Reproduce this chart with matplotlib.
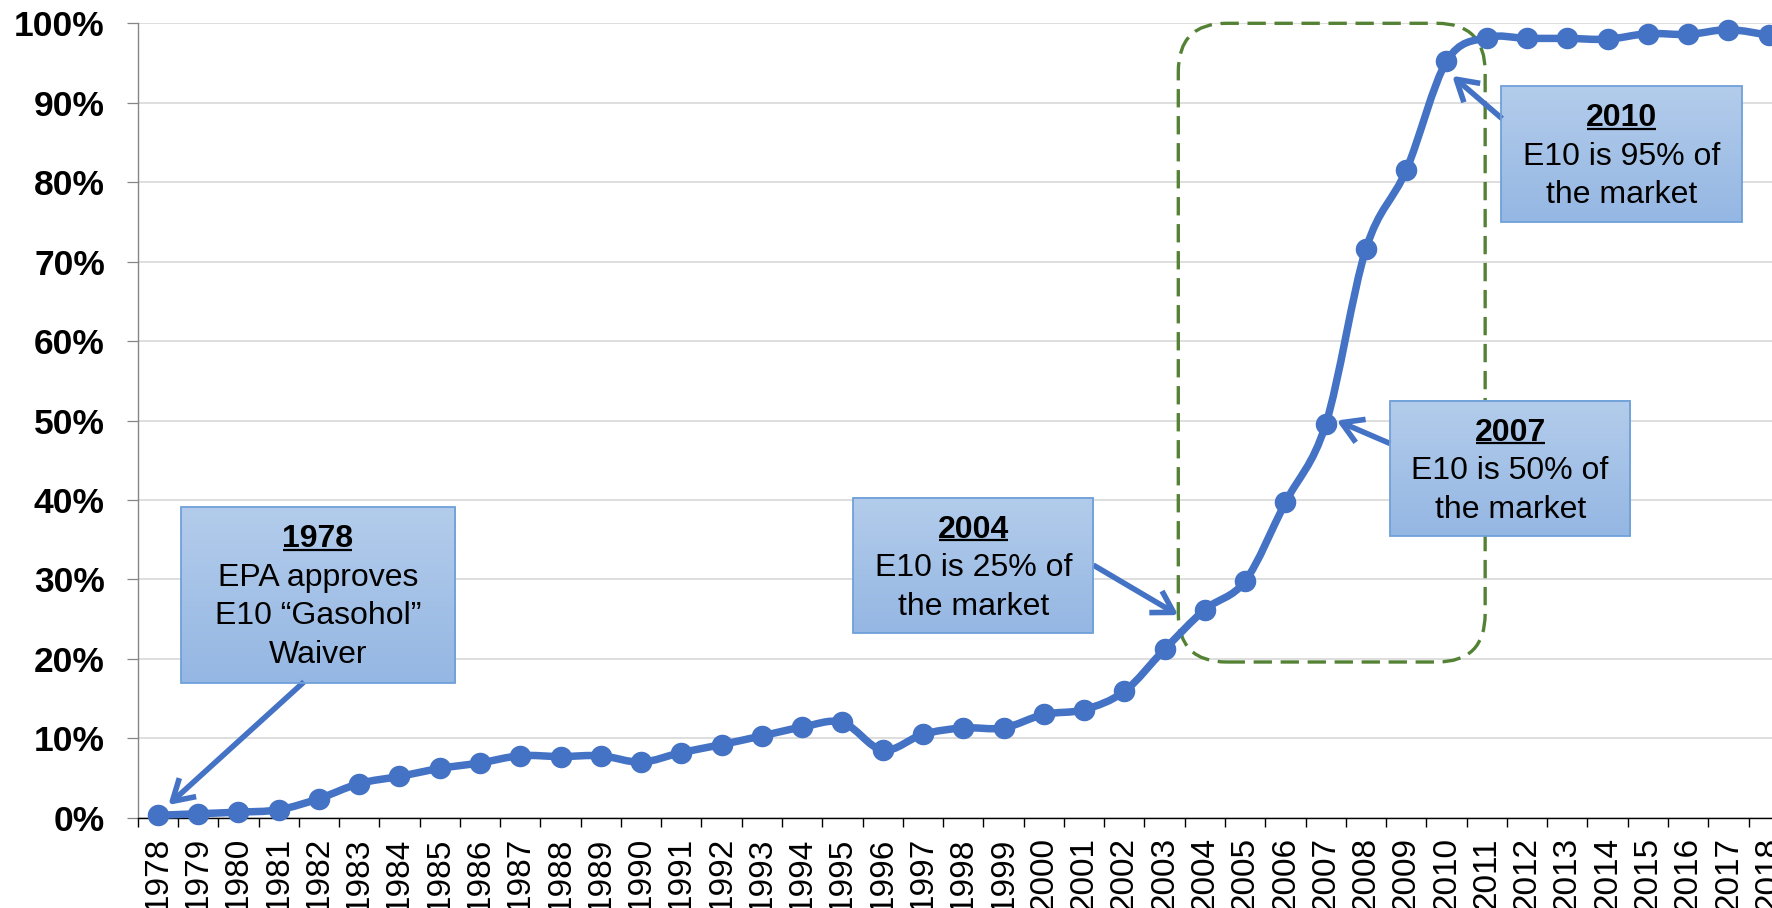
import numpy as np
import matplotlib
matplotlib.use("Agg")
import matplotlib.pyplot as plt
from matplotlib.path import Path
from matplotlib.patches import PathPatch, Rectangle, FancyBboxPatch, FancyArrowPatch
from matplotlib.colors import LinearSegmentedColormap
from matplotlib.transforms import offset_copy

plt.rcParams['font.family'] = ['Liberation Sans', 'DejaVu Sans']

# E10 share of the US gasoline market (%)
years = list(range(1978, 2019))
share = [0.3, 0.5, 0.7, 1.0, 2.4, 4.3, 5.2, 6.2, 6.9, 7.8,
         7.7, 7.8, 7.0, 8.2, 9.2, 10.3, 11.4, 12.0, 8.5, 10.5,
         11.3, 11.3, 13.0, 13.6, 15.9, 21.2, 26.2, 29.8, 39.7, 49.5,
         71.6, 81.5, 95.2, 98.2, 98.1, 98.1, 98.0, 98.7, 98.6, 99.2,
         98.5]
yticks = list(range(0, 101, 10))

note_titles = ["1978", "2004", "2007", "2010"]
note_lines = [["EPA approves", "E10 \u201cGasohol\u201d", "Waiver"],
              ["E10 is 25% of", "the market"],
              ["E10 is 50% of", "the market"],
              ["E10 is 95% of", "the market"]]

# layout of the callouts (category index, percent)
note_boxes = [(0.57, 7.38, 17.0, 39.1), (17.27, 23.23, 23.2, 40.3),
              (30.6, 36.56, 35.4, 52.5), (33.36, 39.34, 75.0, 92.1)]
note_tails = [(3.63, 17.1), (23.23, 31.8), (30.6, 47.1), (33.38, 88.0)]
note_heads = [(0.26, 1.6), (25.34, 25.5), (29.27, 50.0), (32.14, 93.4)]

BLUE = '#4472C4'

fig = plt.figure(figsize=(17.72, 9.08), dpi=100)
ax = fig.add_axes([137.7 / 1772, 90.3 / 908, 1651.1 / 1772, 794.4 / 908])

x = np.arange(len(years), dtype=float)
y = np.array(share, dtype=float)

# smoothed line (Catmull-Rom style bezier, like a spreadsheet "smoothed line")
pts = np.column_stack([x, y])
ext = np.vstack([pts[0], pts, pts[-1]])
verts = [tuple(pts[0])]
codes = [Path.MOVETO]
for i in range(len(pts) - 1):
    p0, p1, p2, p3 = ext[i], ext[i + 1], ext[i + 2], ext[i + 3]
    c1 = p1 + (p2 - p0) / 6.0
    c2 = p2 - (p3 - p1) / 6.0
    verts += [tuple(c1), tuple(c2), tuple(p2)]
    codes += [Path.CURVE4] * 3
ax.add_patch(PathPatch(Path(verts, codes), fill=False, edgecolor=BLUE,
                       lw=5.4, capstyle='round', joinstyle='round',
                       zorder=3, clip_on=False))
ax.plot(x, y, 'o', color=BLUE, ms=14.5, zorder=4, clip_on=False)

# dashed rounded frame around the 2004-2010 ramp
px_x = 40.27
px_y = 7.944
frame = FancyBboxPatch((25.34, 19.6), 32.96 - 25.34, 100 - 19.6,
                       boxstyle="round,pad=0,rounding_size=1.2",
                       mutation_aspect=px_x / px_y,
                       fill=False, edgecolor='#548235', lw=2.4,
                       linestyle=(0, (5.5, 2.6)), zorder=2.5, clip_on=False)
ax.add_patch(frame)

cmap = LinearSegmentedColormap.from_list('box', ['#95b7e3', '#b3cceb'])
grad = np.linspace(0, 1, 100).reshape(-1, 1)

year_texts = []
for title, lines, box, tail, head in zip(note_titles, note_lines, note_boxes,
                                         note_tails, note_heads):
    x0, x1, y0, y1 = box
    ax.imshow(grad, extent=(x0, x1, y0, y1), origin='lower', cmap=cmap,
              aspect='auto', zorder=6, interpolation='bilinear')
    ax.add_patch(Rectangle((x0, y0), x1 - x0, y1 - y0, fill=False,
                           edgecolor='#6fa0da', lw=1.3, zorder=6.5))
    ax.add_patch(FancyArrowPatch(tail, head,
                                 arrowstyle='->,head_length=0.75,head_width=0.45',
                                 mutation_scale=20, color=BLUE, lw=4.0,
                                 shrinkA=0, shrinkB=0, zorder=6.2,
                                 capstyle='butt', joinstyle='round'))
    cx = (x0 + x1) / 2
    tr = offset_copy(ax.transData, fig, y=-40.3, units='dots')
    t = ax.text(cx, y1, title, transform=tr, ha='center', va='baseline',
                fontsize=23, fontweight='bold', zorder=7)
    year_texts.append((t, y1))
    for k, line in enumerate(lines):
        tr = offset_copy(ax.transData, fig, y=-40.3 - 38.4 * (k + 1), units='dots')
        ax.text(cx, y1, line, transform=tr, ha='center', va='baseline',
                fontsize=23, zorder=7)

ax.set_xlim(-0.5, len(years) - 0.5)
ax.set_ylim(0, 100)

ax.set_yticks(yticks)
ax.set_yticklabels([f"{v}%" for v in yticks], fontsize=25.5, fontweight='bold')
ax.set_xticks(x)
ax.set_xticklabels([str(v) for v in years], rotation=90, fontsize=24)
ax.set_xticks(np.arange(-0.5, len(years), 1), minor=True)

ax.tick_params(axis='y', length=7.7, width=0.9, color='#868686', pad=16)
ax.tick_params(axis='x', which='major', length=0, pad=14)
ax.tick_params(axis='x', which='minor', length=6.5, width=1.0, color='black')

ax.yaxis.grid(True, color='#d4d4d4', lw=1.1)
ax.set_axisbelow(True)
for s in ['top', 'right']:
    ax.spines[s].set_visible(False)
ax.spines['left'].set_color('#868686')
ax.spines['left'].set_linewidth(1.0)
ax.spines['bottom'].set_color('black')
ax.spines['bottom'].set_linewidth(1.0)

# underline the bold years
fig.canvas.draw()
inv = ax.transData.inverted()
for t, ytop in year_texts:
    bb = t.get_window_extent()
    base = ax.transData.transform((0, ytop))[1] - 40.3 - 2.5
    (ux0, uy), (ux1, _) = inv.transform([(bb.x0 + 1, base), (bb.x1 - 1, base)])
    ax.plot([ux0, ux1], [uy, uy], color='black', lw=1.6, zorder=7,
            solid_capstyle='butt')

fig.savefig('out.png', dpi=100)
